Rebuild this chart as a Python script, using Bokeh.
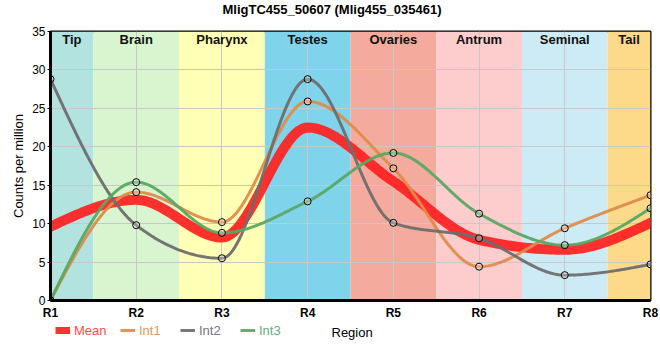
import numpy as np
from bokeh.plotting import figure
from bokeh.layouts import column
from bokeh.models import Range1d, FixedTicker, Legend, LegendItem, ColumnDataSource, Label
from bokeh.core.properties import value
from bokeh.embed import file_html
from bokeh.resources import INLINE

# ---- data ----
title_text = "MligTC455_50607 (Mlig455_035461)"
regions = ["R1", "R2", "R3", "R4", "R5", "R6", "R7", "R8"]
region_pos = [1, 2, 3, 4, 5, 6, 7, 8]
mean = [9.6, 13.1, 8.2, 22.5, 15.5, 7.9, 6.6, 10.1]
int1 = [0.0, 14.1, 10.2, 25.9, 17.2, 4.4, 9.4, 13.7]
int2 = [28.8, 9.8, 5.5, 28.8, 10.1, 8.1, 3.3, 4.7]
int3 = [0.0, 15.4, 8.8, 12.9, 19.2, 11.3, 7.2, 12.0]
y_ticks = [0, 5, 10, 15, 20, 25, 30, 35]

tissues = ["Tip", "Brain", "Pharynx", "Testes", "Ovaries", "Antrum", "Seminal", "Tail"]
tissue_start = [1.0, 1.5, 2.5, 3.5, 4.5, 5.5, 6.5, 7.5]
tissue_end = [1.5, 2.5, 3.5, 4.5, 5.5, 6.5, 7.5, 8.0]
tissue_colors = ["#b3e3df", "#d8f5d0", "#ffffb5", "#7fd3ea",
                 "#f4aa9c", "#fdcccc", "#cdebf5", "#fdd98a"]

series_names = ["Int1", "Int2", "Int3"]
series_colors = ["#de8c4a", "#6e6e6e", "#5aa864"]
label_colors = ["#e8965a", "#777777", "#66ad78"]
mean_color = "#ff1f1f"
mean_label_color = "#ff4d4d"

FONT = "Liberation Sans"


def monotone_curve(xs, ys, n=40):
    """d3 curveMonotoneX-style interpolation."""
    xs = np.asarray(xs, float)
    ys = np.asarray(ys, float)
    m = len(xs)
    sgn = lambda v: -1.0 if v < 0 else 1.0
    t = np.zeros(m)
    for i in range(1, m - 1):
        h0 = xs[i] - xs[i - 1]
        h1 = xs[i + 1] - xs[i]
        s0 = (ys[i] - ys[i - 1]) / h0
        s1 = (ys[i + 1] - ys[i]) / h1
        p_ = (s0 * h1 + s1 * h0) / (h0 + h1)
        t[i] = (sgn(s0) + sgn(s1)) * min(abs(s0), abs(s1), 0.5 * abs(p_))
    h = xs[1] - xs[0]
    t[0] = (3 * (ys[1] - ys[0]) / h - t[1]) / 2
    h = xs[-1] - xs[-2]
    t[-1] = (3 * (ys[-1] - ys[-2]) / h - t[-2]) / 2
    out_x, out_y = [], []
    u = np.linspace(0, 1, n)
    for i in range(m - 1):
        x0, x1 = xs[i], xs[i + 1]
        y0, y1 = ys[i], ys[i + 1]
        dx = (x1 - x0) / 3
        px = [x0, x0 + dx, x1 - dx, x1]
        py = [y0, y0 + dx * t[i], y1 - dx * t[i + 1], y1]
        b0 = (1 - u) ** 3
        b1 = 3 * u * (1 - u) ** 2
        b2 = 3 * u ** 2 * (1 - u)
        b3 = u ** 3
        bx = b0 * px[0] + b1 * px[1] + b2 * px[2] + b3 * px[3]
        by = b0 * py[0] + b1 * py[1] + b2 * py[2] + b3 * py[3]
        if i > 0:
            bx, by = bx[1:], by[1:]
        out_x.extend(bx)
        out_y.extend(by)
    return out_x, out_y


def strip(height):
    f = figure(width=660, height=height, x_range=Range1d(0, 1), y_range=Range1d(0, 1),
               output_backend="svg", toolbar_location=None,
               x_axis_type=None, y_axis_type=None,
               min_border_left=0, min_border_right=0,
               min_border_top=0, min_border_bottom=0)
    f.outline_line_color = None
    f.xgrid.visible = False
    f.ygrid.visible = False
    f.background_fill_color = "white"
    f.border_fill_color = "white"
    return f


# ---- title strip ----
top = strip(19)
top.add_layout(Label(x=172, y=10, x_units="screen", y_units="screen",
                     text=title_text, text_font=FONT, text_font_size="13px",
                     text_font_style="bold", text_baseline="middle",
                     text_color="black"))

# ---- main chart ----
p = figure(width=660, height=303,
           x_range=Range1d(1, 8), y_range=Range1d(0, 35),
           output_backend="svg", toolbar_location=None,
           min_border_left=50, min_border_right=10,
           min_border_bottom=21, min_border_top=12)

p.background_fill_color = "white"
p.border_fill_color = "white"
p.outline_line_color = "black"
p.outline_line_width = 2

# tissue bands
band_src = ColumnDataSource(dict(
    left=tissue_start, right=tissue_end,
    color=tissue_colors, name=tissues,
    mid=[(a + b) / 2 for a, b in zip(tissue_start, tissue_end)],
    top=[y_ticks[-1]] * len(tissues),
))
p.quad(left="left", right="right", bottom=0, top="top", fill_color="color",
       line_color=None, source=band_src, level="image")

p.text(x="mid", y="top", text="name", source=band_src,
       text_align="center", text_baseline="top", y_offset=0,
       text_font=value(FONT), text_font_size="13px", text_font_style="bold",
       text_color="#111111")

# grid
p.xgrid.ticker = FixedTicker(ticks=region_pos)
p.ygrid.ticker = FixedTicker(ticks=y_ticks)
for g in (p.xgrid, p.ygrid):
    g.grid_line_color = "#c8c8c8"
    g.grid_line_width = 1

# axes
p.xaxis.ticker = FixedTicker(ticks=region_pos)
p.xaxis.major_label_overrides = {x: r for x, r in zip(region_pos, regions)}
p.yaxis.ticker = FixedTicker(ticks=y_ticks)
for ax in (p.xaxis, p.yaxis):
    ax.axis_line_color = "black"
    ax.axis_line_width = 3
    ax.minor_tick_line_color = None
    ax.minor_tick_out = 0
    ax.minor_tick_in = 0
    ax.major_label_text_font = FONT
    ax.axis_label_text_font = FONT
    ax.axis_label_text_font_style = "normal"
    ax.axis_label_text_font_size = "13px"
    ax.axis_label_text_color = "black"
    ax.major_label_text_color = "black"
p.xaxis.major_tick_line_color = None
p.xaxis.major_tick_out = 0
p.xaxis.major_tick_in = 0
p.yaxis.major_tick_line_color = "black"
p.yaxis.major_tick_in = 0
p.yaxis.major_tick_out = 3
p.xaxis.major_label_text_font_size = "12px"
p.xaxis.major_label_text_font_style = "bold"
p.xaxis.major_label_standoff = 5
p.yaxis.major_label_text_font_size = "12px"
p.yaxis.major_label_standoff = 2
p.yaxis.axis_label = "Counts per million"
p.yaxis.axis_label_standoff = 3

# lines
mx, my = monotone_curve(region_pos, mean)
p.line(mx, my, line_color=mean_color, line_width=10, line_alpha=0.92,
       line_cap="round", line_join="round")

for name, vals, col in zip(series_names, [int1, int2, int3], series_colors):
    cx, cy = monotone_curve(region_pos, vals)
    p.line(cx, cy, line_color=col, line_width=3, line_alpha=0.95)
for vals in (int1, int2, int3):
    p.scatter(region_pos, vals, marker="circle", size=7, line_color="black",
              line_width=1, fill_color="white", fill_alpha=0.25)

# ---- legend strip ----
leg = strip(38)
legend_names = ["Mean"] + series_names
legend_line_colors = [mean_color] + series_colors
legend_text_colors = [mean_label_color] + label_colors
legend_widths = [7, 3, 3, 3]
legend_x = [5, 70, 130, 190]
for name, lc, tc, lw, xo in zip(legend_names, legend_line_colors,
                                legend_text_colors, legend_widths, legend_x):
    dummy = leg.line([5, 6], [5, 5], line_color=lc, line_width=lw,
                     line_alpha=0.92)
    lg = Legend(items=[LegendItem(label=name, renderers=[dummy])],
                location=(xo, 22), orientation="horizontal",
                label_text_color=tc, label_text_font=FONT,
                label_text_font_size="13px",
                background_fill_alpha=0, border_line_alpha=0,
                padding=0, margin=0, glyph_width=15, glyph_height=16,
                label_standoff=4, label_height=16)
    leg.add_layout(lg)

leg.add_layout(Label(x=281, y=28, x_units="screen", y_units="screen",
                     text="Region", text_font=FONT, text_font_size="13px",
                     text_baseline="middle", text_color="black"))

layout = column(top, p, leg, spacing=0)
open("out.html", "w").write(file_html(layout, INLINE))
